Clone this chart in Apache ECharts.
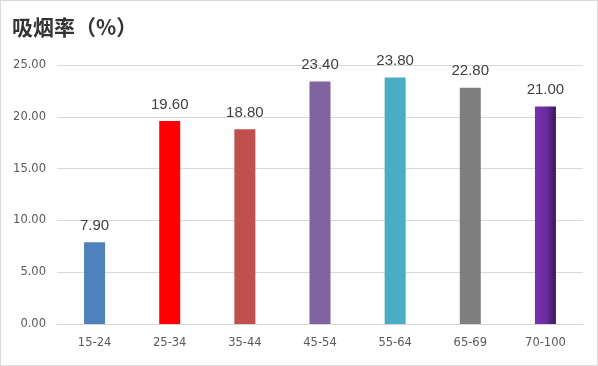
<!DOCTYPE html>
<html><head><meta charset="utf-8">
<script src="https://cdn.jsdelivr.net/npm/echarts@6/dist/echarts.min.js"></script>
<style>html,body{margin:0;padding:0;background:#fff}#c{width:598px;height:366px;box-sizing:border-box;border:1px solid #d9d9d9}</style>
</head><body><div id="c"></div>
<script>
const categories = ['15-24','25-34','35-44','45-54','55-64','65-69','70-100'];
const values = [7.9, 19.6, 18.8, 23.4, 23.8, 22.8, 21.0];
const barColors = ['#4f81bd','#ff0000','#c0504d','#8064a2','#4bacc6','#7f7f7f', null];
const titleText = '吸烟率（%）';

const chart = echarts.init(document.getElementById('c'), null, {renderer:'canvas'});
const lastGrad = new echarts.graphic.LinearGradient(0,0,1,0,[
  {offset:0,color:'#7a30b0'},{offset:0.55,color:'#6a2c9c'},{offset:1,color:'#3a1858'}]);
chart.setOption({
  animation:false,
  title:{text:titleText,left:6,top:11,textStyle:{fontSize:21,fontWeight:'bold',color:'#333',fontFamily:'Noto Sans CJK SC'}},
  grid:{left:56,right:14,top:64,bottom:41,containLabel:false},
  xAxis:{type:'category',data:categories,
    axisLine:{lineStyle:{color:'#d9d9d9'}},axisTick:{show:false},
    axisLabel:{color:'#595959',fontSize:11.5,margin:13,fontFamily:'DejaVu Sans'}},
  yAxis:{type:'value',min:0,max:25,interval:5,
    axisLine:{show:false},axisTick:{show:false},
    splitLine:{lineStyle:{color:'#d9d9d9'}},
    axisLabel:{color:'#595959',fontSize:11.5,margin:11,fontFamily:'DejaVu Sans',formatter:v=>v.toFixed(2)}},
  series:[{type:'bar',barWidth:21,
    data:values.map((v,i)=>({value:v,itemStyle:{color:barColors[i]||lastGrad}})),
    label:{show:true,position:'top',distance:9,color:'#404040',fontSize:15,fontFamily:'Liberation Sans',formatter:p=>p.value.toFixed(2)}}]
});
</script></body></html>
